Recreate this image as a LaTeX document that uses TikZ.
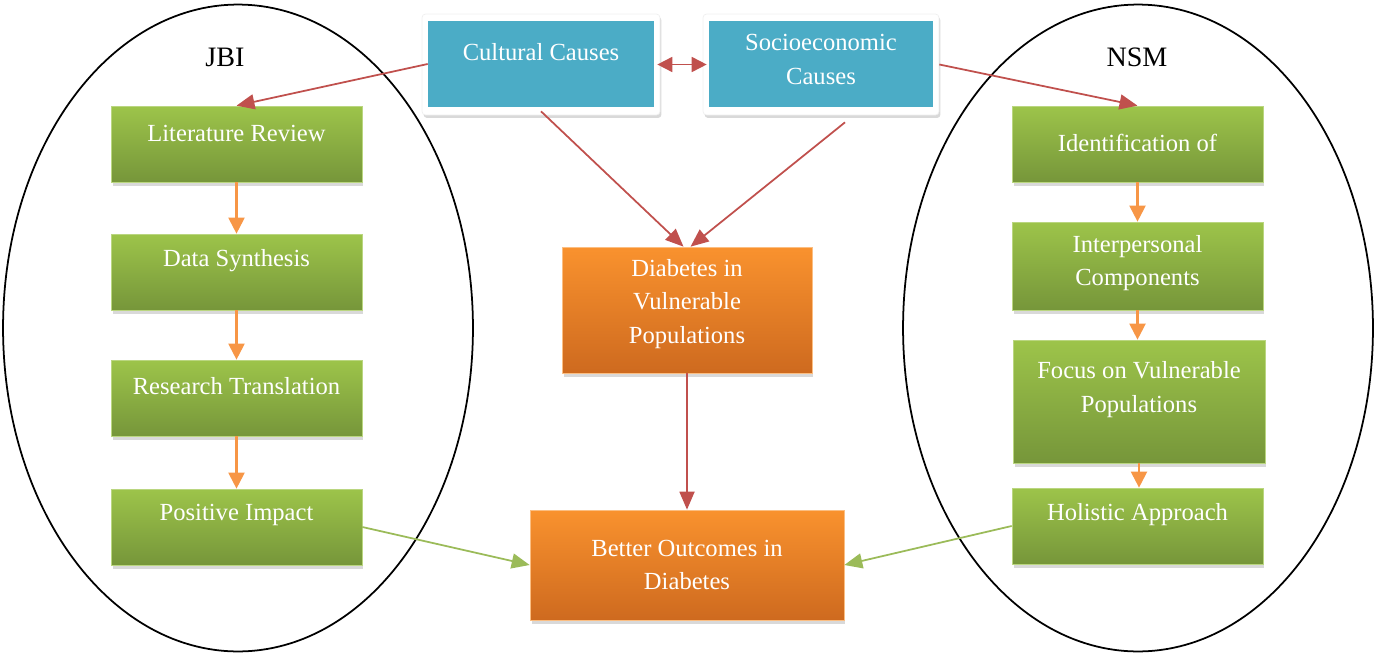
\documentclass[tikz,border=0pt]{standalone}
\usepackage{fontspec}
\setmainfont{Liberation Serif}
\usetikzlibrary{shapes,arrows.meta,positioning,shadows}

\definecolor{causeblue}{HTML}{4BACC6}
\definecolor{stepgreen}{HTML}{9DC44A}
\definecolor{stepgreendark}{HTML}{76963A}
\definecolor{outorange}{HTML}{F9922E}
\definecolor{outorangedark}{HTML}{CE6A1F}
\definecolor{linkred}{HTML}{C0504D}
\definecolor{linkorange}{HTML}{F79646}
\definecolor{linkgreen}{HTML}{9BBB59}

\begin{document}
\begin{tikzpicture}[
    x=0.02cm, y=-0.02cm,
    model/.style={ellipse, draw, line width=1pt, minimum width=9.4cm, minimum height=12.94cm},
    title/.style={font=\fontsize{16}{19}\selectfont},
    txt/.style={text=white, font=\fontsize{14}{19}\selectfont, align=center},
    causeframe/.style={rectangle, rounded corners=2pt, fill=white, draw=black!6, minimum height=2.02cm,
        drop shadow={shadow xshift=0.03cm, shadow yshift=-0.06cm, opacity=0.3}},
    cause/.style={rectangle, fill=causeblue, minimum height=1.72cm},
    stepbox/.style={rectangle, draw=stepgreen!70!white, top color=stepgreen, bottom color=stepgreendark,
        minimum width=5.02cm, minimum height=1.52cm,
        drop shadow={shadow xshift=0.03cm, shadow yshift=-0.08cm, opacity=0.3}},
    outcome/.style={rectangle, draw=outorange!60!white, top color=outorange, bottom color=outorangedark,
        drop shadow={shadow xshift=0.03cm, shadow yshift=-0.08cm, opacity=0.3}},
    redarrow/.style={-{Triangle[length=0.36cm,width=0.3cm]}, linkred, line width=1pt},
    orangearrow/.style={-{Triangle[length=0.32cm,width=0.32cm]}, linkorange, line width=1.2pt},
    greenarrow/.style={-{Triangle[length=0.36cm,width=0.3cm]}, linkgreen, line width=1pt}
]
    \useasboundingbox (0,0) rectangle (1378,659);

    % Models
    \node[model] (jbi) at (238,328) {};
    \node[model] (nsm) at (1138,328) {};
    \node[title] (jbilabel) at (225,57) {JBI};
    \node[title] (nsmlabel) at (1137,57) {NSM};

    % Causes
    \node[causeframe, minimum width=4.76cm] (culturalframe) at (541,64.5) {};
    \node[causeframe, minimum width=4.72cm] (socioframe) at (821,64.5) {};
    \node[cause, minimum width=4.52cm, label={[txt,yshift=0.24cm]center:Cultural Causes}] (cultural) at (541,64) {};
    \node[cause, minimum width=4.48cm, label={[txt,yshift=0.09cm]center:Socioeconomic\\Causes}] (socio) at (821,64) {};

    % JBI steps
    \node[stepbox, label={[txt,yshift=0.22cm]center:Literature Review}] (litreview) at (236.5,144) {};
    \node[stepbox, label={[txt,yshift=0.22cm]center:Data Synthesis}] (synthesis) at (236.5,272) {};
    \node[stepbox, label={[txt,yshift=0.24cm]center:Research Translation}] (translation) at (236.5,398) {};
    \node[stepbox, label={[txt,yshift=0.24cm]center:Positive Impact}] (impact) at (236.5,527) {};

    % NSM steps
    \node[stepbox, label={[txt,yshift=0.02cm]center:Identification of}] (identification) at (1137.5,144) {};
    \node[stepbox, minimum height=1.76cm, label={[txt,yshift=0.06cm]center:Interpersonal\\Components}] (interpersonal) at (1137.5,266) {};
    \node[stepbox, minimum width=5.04cm, minimum height=2.46cm, label={[txt,yshift=0.24cm]center:Focus on Vulnerable\\Populations}] (focus) at (1139,401.5) {};
    \node[stepbox, label={[txt,yshift=0.22cm]center:Holistic Approach}] (holistic) at (1137.5,526) {};

    % Outcomes
    \node[outcome, minimum width=5cm, minimum height=2.52cm, label={[txt,yshift=0.12cm]center:Diabetes in\\Vulnerable\\Populations}] (diabetes) at (687,310) {};
    \node[outcome, minimum width=6.28cm, minimum height=2.2cm, label={[txt]center:Better Outcomes in\\Diabetes}] (better) at (687,565) {};

    % Arrows
    \draw[redarrow, {Triangle[length=0.3cm,width=0.3cm]}-{Triangle[length=0.3cm,width=0.3cm]},
        shorten <=-0.06cm, shorten >=-0.08cm] (culturalframe.east) -- (socioframe.west);
    \draw[redarrow] (cultural.west) -- (litreview.north);
    \draw[redarrow] (socioframe.east) -- (identification.north);
    \draw[redarrow] ([yshift=-0.08cm]cultural.south) -- ([xshift=-2pt]diabetes.north);
    \draw[redarrow] ([xshift=0.48cm,yshift=-0.3cm]socio.south) -- ([xshift=2pt]diabetes.north);
    \draw[redarrow] (diabetes) -- (better);

    \draw[orangearrow] (litreview) -- (synthesis);
    \draw[orangearrow] (synthesis) -- (translation);
    \draw[orangearrow] (translation) -- (impact);
    \draw[orangearrow] (identification) -- (interpersonal);
    \draw[orangearrow] (interpersonal.south) -- (interpersonal.south |- focus.north);
    \draw[orangearrow] (focus.south) -- (focus.south |- holistic.north);

    \draw[greenarrow] (impact.east) -- (better.west);
    \draw[greenarrow] (holistic.west) -- (better.east);

\end{tikzpicture}
\end{document}
